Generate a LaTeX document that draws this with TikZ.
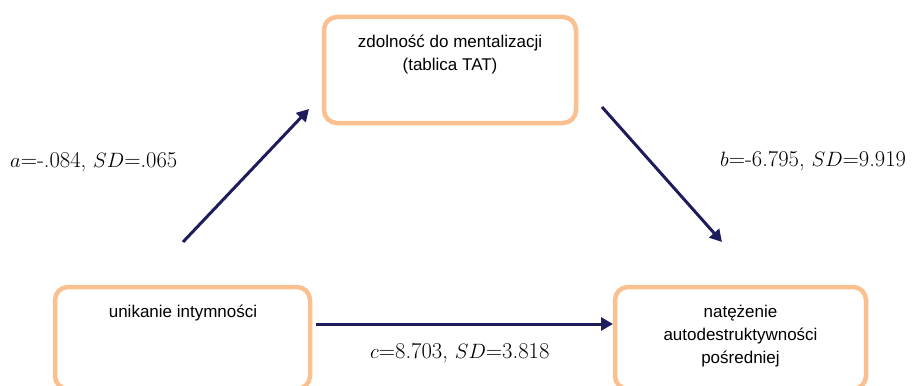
\documentclass[tikz,border=0pt]{standalone}
\usepackage{fontspec}
\setmainfont{Liberation Sans}
\newfontfamily\lmfont{Latin Modern Roman}
\usetikzlibrary{arrows.meta}
\definecolor{boxorange}{HTML}{FAC08F}
\definecolor{arrownavy}{HTML}{1F1C5C}
\tikzset{
  box/.style={draw=boxorange, line width=4.5pt, rounded corners=13pt},
  boxtext/.style={align=center, font=\fontsize{17}{23}\selectfont, inner sep=0pt},
  lab/.style={font=\lmfont\fontsize{22.6}{26}\selectfont, inner sep=0pt, anchor=base west},
  conn/.style={draw=arrownavy, line width=3pt, -{Triangle[length=12pt,width=13pt]}}
}
\begin{document}
\begin{tikzpicture}[x=1pt,y=-1pt]
\useasboundingbox (0,0) rectangle (917,385);
\clip (0,0) rectangle (917,385);
% boxes
\draw[box] (55,287) rectangle (310,389);
\draw[box] (324,17) rectangle (576,123);
\draw[box] (615,287) rectangle (866,389);
\node[boxtext] (L) at (183,313) {unikanie intymności};
\node[boxtext] (T) at (450,55) {zdolność do mentalizacji\\(tablica TAT)};
\node[boxtext] (R) at (740.5,336) {natężenie\\autodestruktywności\\pośredniej};
% arrow ends
\coordinate (a1) at (183,242);
\coordinate (a2) at (309,109);
\coordinate (b1) at (602,107);
\coordinate (b2) at (722,242);
\coordinate (c1) at (316,324);
\coordinate (c2) at (613,324);
\draw[conn] (a1) -- (a2);
\draw[conn] (b1) -- (b2);
\draw[conn] (c1) -- (c2);
% labels
\node[lab] (la) at (10,167) {$a$=-.084, $SD$=.065};
\node[lab] (lb) at (720,166) {$b$=-6.795, $SD$=9.919};
\node[lab] (lc) at (370,358) {$c$=8.703, $SD$=3.818};
\end{tikzpicture}
\end{document}
